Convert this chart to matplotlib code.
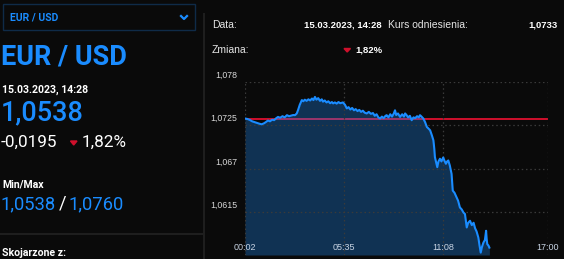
import matplotlib
matplotlib.use("Agg")
import matplotlib.pyplot as plt
from matplotlib.patches import Rectangle, Polygon
from matplotlib.lines import Line2D
import matplotlib.transforms as mtransforms

# ---------------- data ----------------
times = [2, 10, 18, 26, 34, 42, 50, 58, 66, 72, 79, 86, 93, 100, 107, 113, 120, 128, 135, 143,
         150, 157, 164, 170, 176, 180, 186, 193, 198, 203, 209, 215, 221, 227, 232, 237, 242, 248,
         254, 260, 264, 270, 276, 282, 288, 294, 298, 304, 310, 316, 322, 331, 338, 344, 350, 356,
         362, 368, 374, 380, 386, 392, 398, 404, 411, 418, 425, 432, 438, 444, 450, 456, 462, 468,
         474, 478, 484, 490, 496, 502, 506, 510, 516, 523, 530, 536, 540, 545, 550, 556, 562, 568,
         574, 580, 586, 590, 595, 601, 607, 613, 618, 624, 630, 635, 638, 640, 644, 648, 652, 657,
         662, 668, 672, 677, 681, 685, 690, 696, 698, 700, 706, 713, 718, 724, 730, 736, 741, 744,
         747, 752, 758, 764, 770, 775, 780, 786, 790, 794, 798, 803, 808, 812, 814, 816, 820, 823]
values = [1.07336, 1.07330, 1.07318, 1.07300, 1.07290, 1.07280, 1.07270, 1.07262, 1.07275, 1.07290,
          1.07310, 1.07300, 1.07320, 1.07315, 1.07340, 1.07356, 1.07345, 1.07365, 1.07350, 1.07378,
          1.07365, 1.07372, 1.07380, 1.07378, 1.07400, 1.07440, 1.07510, 1.07570, 1.07555, 1.07575,
          1.07560, 1.07580, 1.07565, 1.07590, 1.07570, 1.07610, 1.07575, 1.07595, 1.07560, 1.07580,
          1.07550, 1.07565, 1.07540, 1.07555, 1.07530, 1.07545, 1.07528, 1.07540, 1.07525, 1.07545,
          1.07530, 1.07540, 1.07510, 1.07464, 1.07480, 1.07450, 1.07470, 1.07440, 1.07455, 1.07430,
          1.07445, 1.07420, 1.07435, 1.07410, 1.07400, 1.07420, 1.07395, 1.07405, 1.07370, 1.07390,
          1.07350, 1.07336, 1.07360, 1.07340, 1.07370, 1.07378, 1.07350, 1.07390, 1.07360, 1.07400,
          1.07440, 1.07380, 1.07400, 1.07356, 1.07390, 1.07360, 1.07400, 1.07378, 1.07350, 1.07370,
          1.07314, 1.07350, 1.07340, 1.07365, 1.07350, 1.07378, 1.07360, 1.07336, 1.07290, 1.07228,
          1.07210, 1.07186, 1.07120, 1.07058, 1.06950, 1.06845, 1.06780, 1.06717, 1.06790, 1.06824,
          1.06790, 1.06840, 1.06800, 1.06760, 1.06790, 1.06802, 1.06740, 1.06632, 1.06520, 1.06419,
          1.06390, 1.06333, 1.06290, 1.06205, 1.06180, 1.06140, 1.06121, 1.06030, 1.05950, 1.06010,
          1.06035, 1.05980, 1.06010, 1.05940, 1.05900, 1.05822, 1.05720, 1.05630, 1.05700, 1.05758,
          1.05790, 1.05908, 1.05800, 1.05738, 1.05720, 1.05694]
reference = 1.0733
y_ticks = [1.0615, 1.067, 1.0725, 1.078]
y_tick_labels = ["1,0615", "1,067", "1,0725", "1,078"]
x_ticks = [2, 335, 668, 1020]
x_tick_labels = ["00:02", "05:35", "11:08", "17:00"]
y_min, y_max = 1.056, 1.078

# ---------------- figure ----------------
W, H = 564, 259
BG = "#0a0a0a"
BLUE = "#1a8cff"
RED = "#d0102c"
fig = plt.figure(figsize=(W / 100, H / 100), dpi=100, facecolor=BG)

def fx(x):
    return x / W

def fy(y):
    return 1 - y / H

# left panel
fig.patches.append(Rectangle((fx(3), fy(30)), fx(192), 26 / H, transform=fig.transFigure,
                             fill=False, edgecolor="#0f2b48", linewidth=1.0))
fig.text(fx(10), fy(17.5), "EUR / USD", color=BLUE, fontsize=7.5, fontweight="bold",
         family="Roboto", va="center", ha="left")
fig.lines.append(Line2D([fx(181), fx(184), fx(187)], [fy(16), fy(19), fy(16)],
                        transform=fig.transFigure, color=BLUE, linewidth=1.6))
fig.text(fx(1), fy(57), "EUR / USD", color=BLUE, fontsize=19.5, fontweight="bold",
         family="Roboto", va="center", ha="left")
fig.text(fx(2), fy(89.5), "15.03.2023, 14:28", color="white", fontsize=7.6, fontweight="bold",
         family="Roboto", va="center", ha="left")
fig.text(fx(1), fy(113), "1,0538", color=BLUE, fontsize=19.5, fontweight="medium",
         family="Roboto", va="center", ha="left")
fig.text(fx(0.5), fy(142.5), "-0,0195", color="white", fontsize=12.3, family="Roboto",
         va="center", ha="left")
fig.patches.append(Polygon([[fx(70.5), fy(141)], [fx(77), fy(141)], [fx(73.7), fy(145)]],
                           closed=True, transform=fig.transFigure, color=RED))
fig.text(fx(81.5), fy(142.5), "1,82%", color="white", fontsize=12.3, family="Roboto",
         va="center", ha="left")
fig.text(fx(2), fy(184.5), "Min/Max", color="white", fontsize=7.6, fontweight="bold",
         family="Roboto", va="center", ha="left")
fig.text(fx(1), fy(204), "1,0538", color=BLUE, fontsize=13.2, family="Roboto",
         va="center", ha="left")
fig.text(fx(58.5), fy(204), "/", color="white", fontsize=13.2, family="Roboto",
         va="center", ha="left")
fig.text(fx(69), fy(204), "1,0760", color=BLUE, fontsize=13.2, family="Roboto",
         va="center", ha="left")
fig.lines.append(Line2D([0, fx(204)], [fy(234), fy(234)], transform=fig.transFigure,
                        color="#1e1e1e", linewidth=1.5))
fig.text(fx(2), fy(253), "Skojarzone z:", color="white", fontsize=7.6, fontweight="bold",
         family="Roboto", va="center", ha="left")
fig.lines.append(Line2D([fx(204), fx(204)], [fy(14), 0], transform=fig.transFigure,
                        color="#1e1e1e", linewidth=1.5))

# right header
hf = "Liberation Sans"
fig.text(fx(212), fy(25), "Data:", color="#e6e6e6", fontsize=7.5, family=hf, va="center")
fig.text(fx(382), fy(25), "15.03.2023, 14:28", color="white", fontsize=6.8, fontweight="bold",
         family=hf, va="center", ha="right")
fig.text(fx(388.5), fy(25), "Kurs odniesienia:", color="#e6e6e6", fontsize=7.5, family=hf,
         va="center")
fig.text(fx(558), fy(25), "1,0733", color="white", fontsize=6.8, fontweight="bold",
         family=hf, va="center", ha="right")
fig.text(fx(212), fy(50), "Zmiana:", color="#e6e6e6", fontsize=7.5, family=hf, va="center")
fig.patches.append(Polygon([[fx(344), fy(48.5)], [fx(350.5), fy(48.5)], [fx(347.2), fy(52)]],
                           closed=True, transform=fig.transFigure, color=RED))
fig.text(fx(382), fy(50), "1,82%", color="white", fontsize=6.8, fontweight="bold",
         family=hf, va="center", ha="right")

# chart
ax = fig.add_axes([fx(245), fy(255), (548 - 245) / W, (255 - 82) / H])
ax.set_facecolor(BG)
ax.set_xlim(x_ticks[0], x_ticks[-1])
ax.set_ylim(y_min, y_max)
for s in ax.spines.values():
    s.set_visible(False)
ax.set_xticks([])
ax.set_yticks([])

grid_kw = dict(color="#3a3a3a", linestyle=(0, (1.2, 2.2)), linewidth=0.9, zorder=3)
for yv in y_ticks:
    ax.axhline(yv, **grid_kw)
for xv in x_ticks:
    ax.axvline(xv, **grid_kw)

ax.axhline(reference, color=RED, linewidth=1.4, zorder=2)
ax.fill_between(times, values, y_min, color="#1e90ff", alpha=0.3, linewidth=0, zorder=2.5)
ax.plot(times, values, color=BLUE, linewidth=1.5, zorder=4, solid_joinstyle="round")

tick_color = "#d8d8d8"
ytr = mtransforms.offset_copy(ax.get_yaxis_transform(), fig=fig, x=-8, y=6.5, units="dots")
for yv, lab in zip(y_ticks, y_tick_labels):
    ax.text(0, yv, lab, transform=ytr, ha="right", va="center", color=tick_color,
            fontsize=6.3, family=hf, clip_on=False)
xtr = mtransforms.offset_copy(ax.get_xaxis_transform(), fig=fig, x=0, y=7, units="dots")
for xv, lab in zip(x_ticks, x_tick_labels):
    ax.text(xv, 0, lab, transform=xtr, ha="center", va="center", color="#c8d4e4",
            fontsize=6.5, family=hf, clip_on=False, zorder=5)

fig.savefig("out.png", dpi=100, facecolor=BG)
